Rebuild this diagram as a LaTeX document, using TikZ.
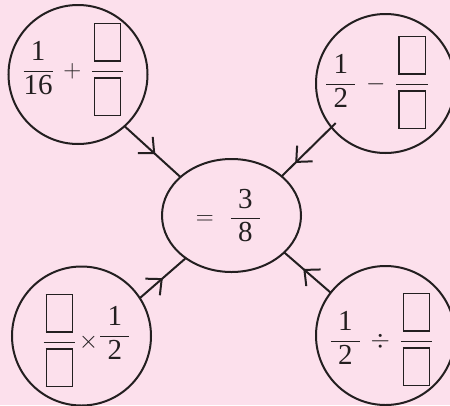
\documentclass[tikz,border=0pt]{standalone}
\usepackage{amsmath}
\usepackage{fontspec}
\setmainfont{Liberation Serif}
\usetikzlibrary{arrows.meta,decorations.markings,shapes.geometric,calc}
\definecolor{bg}{HTML}{FCE0EC}
\definecolor{ink}{HTML}{231F20}
\newcommand\blankbox{{\setlength\fboxsep{0pt}\setlength\fboxrule{1.1pt}\kern2pt\fbox{\rule{0pt}{36pt}\hspace{25pt}}\kern2pt}}
\newcommand\bfrac{\dfrac{\blankbox\rule[-3pt]{0pt}{3pt}}{\rule{0pt}{40pt}\blankbox}}
\newcommand\nfrac[2]{\dfrac{\makebox[29pt]{#1}}{\makebox[29pt]{#2}}}
\begin{document}
\begin{tikzpicture}[x=1pt,y=-1pt,
  ring/.style={draw=ink,line width=2pt,circle,minimum size=139pt,inner sep=0pt,outer sep=0pt},
  oval/.style={draw=ink,line width=2pt,ellipse,minimum width=139pt,minimum height=113pt,inner sep=0pt,outer sep=0pt},
  expr/.style={text=ink,font=\fontsize{29}{34}\selectfont,inner sep=0pt},
  link/.style={draw=ink,line width=2pt,postaction={decorate},
    decoration={markings,mark=at position #1 with {\arrow{Straight Barb[length=12pt,width=22pt]}}}}
]
\fill[bg] (0,0) rectangle (450,405);
\useasboundingbox (0,0) rectangle (450,405);
% rings
\node[ring] (tl) at (78,74.5) {};
\node[ring] (tr) at (385.5,83.5) {};
\node[ring] (bl) at (81.5,336) {};
\node[ring] (br) at (385.5,335.5) {};
\node[oval] (mid) at (231.5,215.5) {};
% expressions
\node[expr] (tlx) at (73.5,69.5) {$\nfrac{1}{16}\,+\,\bfrac$};
\node[expr] (trx) at (377,82.5) {$\nfrac{1}{2}\,-\,\bfrac$};
\node[expr] (midx) at (228.5,215.5) {$=\hspace{9pt}\nfrac{3}{8}$};
\node[expr] (blx) at (86.5,340.5) {$\bfrac\kern3pt{\times}\kern1pt\raisebox{6pt}{$\nfrac{1}{2}$}$};
\node[expr] (brx) at (381.5,339.5) {$\nfrac{1}{2}\,\div\,\bfrac$};
% connectors
\coordinate (trs) at ($(tr.219.7)!-6pt!(mid.38.7)$);
\path[link=0.55] (tl.-48.2) -- (mid.143.7);
\path[link=0.75] (trs) -- (mid.38.7);
\path[link=0.5] (bl.33) -- (mid.-137);
\path[link=0.59] (br.142.4) -- (mid.-35.3);
\end{tikzpicture}
\end{document}
